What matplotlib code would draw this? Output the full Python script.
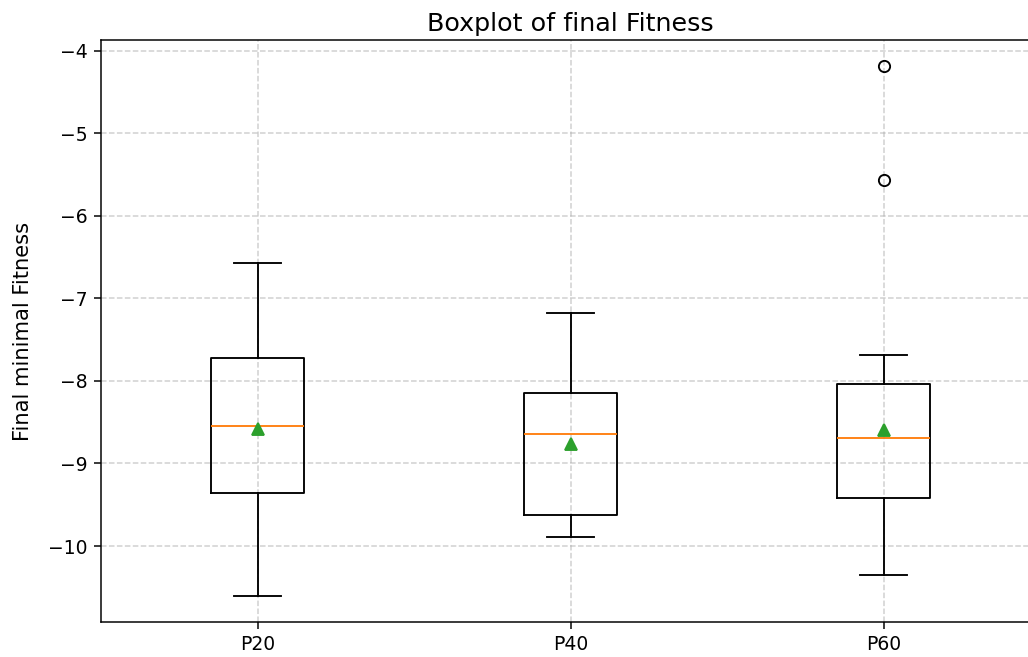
import matplotlib
matplotlib.use("Agg")
import matplotlib.pyplot as plt

labels = ["P20", "P40", "P60"]
whislo = [-10.60, -9.89, -10.35]
q1 = [-9.36, -9.63, -9.42]
med = [-8.55, -8.64, -8.69]
mean = [-8.58, -8.76, -8.59]
q3 = [-7.72, -8.15, -8.04]
whishi = [-6.57, -7.18, -7.69]
fliers = [[], [], [-4.19, -5.57]]

stats = []
for i, lab in enumerate(labels):
    stats.append(dict(label=lab, whislo=whislo[i], q1=q1[i], med=med[i],
                      mean=mean[i], q3=q3[i], whishi=whishi[i], fliers=fliers[i]))

dpi = 135
fig = plt.figure(figsize=(1028 / dpi, 657 / dpi), dpi=dpi)
ax = fig.add_axes([101 / 1028, 1 - 622 / 657, (1040 - 101) / 1028, (622 - 40) / 657])
ax.bxp(stats, showmeans=True)
ax.set_title("Boxplot of final Fitness", fontsize=13.5, pad=5)
ax.set_ylabel("Final minimal Fitness", fontsize=11.2, labelpad=8)
ax.grid(True, linestyle="--", alpha=0.6)
fig.savefig("out.png", dpi=dpi)
